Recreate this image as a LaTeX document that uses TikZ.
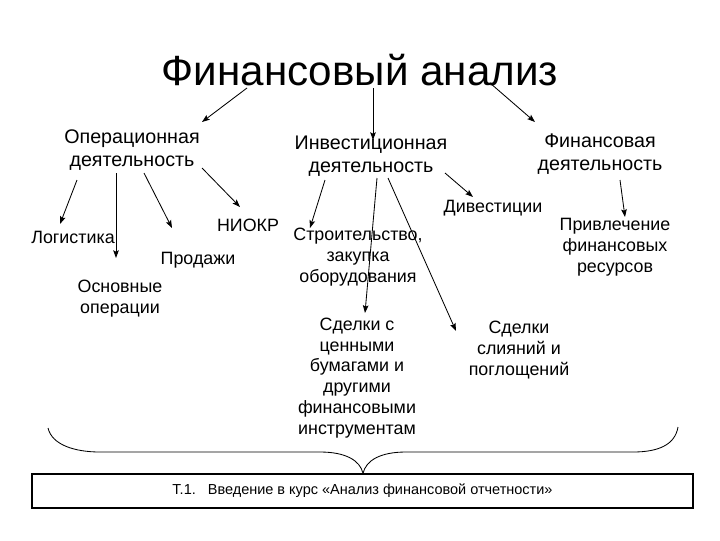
\documentclass[tikz,border=0pt]{standalone}
\usepackage{fontspec}
\setmainfont{Liberation Sans}
\usetikzlibrary{arrows.meta,calc}
\tikzset{
  % main heading
  headnode/.style={inner sep=0pt, font=\fontsize{30}{36}\selectfont},
  % kind of activity
  areanode/.style={align=center, inner sep=0pt, font=\fontsize{14}{16.7}\selectfont},
  % single item under an activity
  itemnode/.style={align=center, inner sep=0pt, font=\fontsize{12.7}{14.8}\selectfont},
  % branch arrow
  branch/.style={-{Stealth[length=5.5pt,width=4pt,inset=1pt]}, line width=0.6pt},
  % caption frame at the bottom
  capbox/.style={draw, line width=0.9pt, minimum width=16.525cm, minimum height=0.85cm,
                 inner sep=0pt, font=\fontsize{10.3}{12}\selectfont},
  % curly brace
  bracepath/.style={line width=0.6pt},
}
\begin{document}
\begin{tikzpicture}[x=0.025cm, y=-0.025cm]
  \useasboundingbox (0,0) rectangle (720,540);
  % heading
  \node[headnode] (title) at (360,70) {Финансовый анализ};
  % activities
  \node[areanode] (op)  at (132,150) {Операционная\\деятельность};
  \node[areanode] (inv) at (371,156) {Инвестиционная\\деятельность};
  \node[areanode] (fin) at (600,154) {Финансовая\\деятельность};
  % operating items
  \node[itemnode] (log)   at (73,237)  {Логистика};
  \node[itemnode] (osn)   at (120,299) {Основные\\операции};
  \node[itemnode] (prod)  at (198,260) {Продажи};
  \node[itemnode] (niokr) at (248,225) {НИОКР};
  % investing items
  \node[itemnode] (stroi) at (358,257) {Строительство,\\закупка\\оборудования};
  \node[itemnode] (sd1)   at (357,378) {Сделки с\\ценными\\бумагами и\\другими\\финансовыми\\инструментам};
  \node[itemnode] (sd2)   at (519,350) {Сделки\\слияний и\\поглощений};
  \node[itemnode] (div)   at (493,208) {Дивестиции};
  % financing items
  \node[itemnode] (priv)  at (615,247) {Привлечение\\финансовых\\ресурсов};
  % caption
  \node[capbox] (cap) at (362.5,491) {Т.1.~~~Введение в курс «Анализ финансовой отчетности»};

  % heading to activities
  \draw[branch] ($(title)+(-113,18)$) -- ($(op)+(70,-28)$);
  \draw[branch] ($(title)+(13,18)$) -- ($(inv)+(2,-16)$);
  \draw[branch] ($(title)+(130,13)$) -- ($(fin)+(-65,-32)$);
  % operating
  \draw[branch] ($(op)+(-55,30)$) -- ($(log)+(-13,-13)$);
  \draw[branch] ($(op)+(-16,23)$) -- ($(osn)+(-4,-41)$);
  \draw[branch] ($(op)+(12,23)$) -- ($(prod)+(-26,-32)$);
  \draw[branch] ($(op)+(70,18)$) -- ($(niokr)+(-8,-18)$);
  % investing
  \draw[branch] ($(inv)+(-46,24)$) -- ($(stroi)+(-48,-29)$);
  \draw[branch] ($(inv)+(6,22)$) -- ($(sd1)+(8,-65)$);
  \draw[branch] ($(inv)+(17,22)$) -- ($(sd2)+(-63,-19)$);
  \draw[branch] ($(inv)+(74,17)$) -- ($(div)+(-20,-11)$);
  % financing
  \draw[branch] ($(fin)+(20,26)$) -- ($(priv)+(10,-30)$);

  % brace over the caption
  \draw[bracepath] (48,428) .. controls (52,445) and (75,452) .. (100,452) -- (320,452)
    .. controls (345,452) and (360,460) .. (cap.north -| 363,0)
    .. controls (366,460) and (381,452) .. (406,452) -- (633,452)
    .. controls (658,452) and (675,445) .. (678,427);
\end{tikzpicture}
\end{document}
